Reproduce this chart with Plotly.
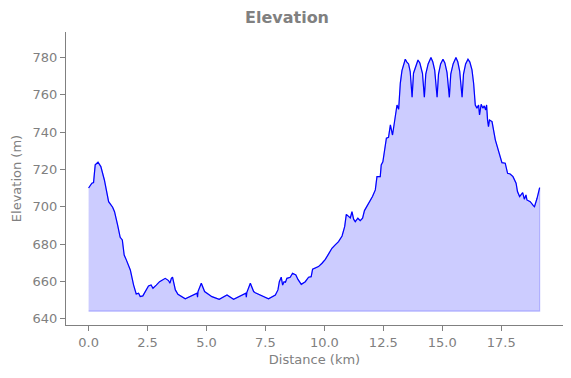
import plotly.graph_objects as go

distance_km = [
    0.0, 0.07, 0.14, 0.21, 0.28, 0.4, 0.52, 0.67, 0.85, 1.02, 1.1, 1.23, 1.34, 1.43, 1.51, 1.6,
    1.7, 1.77, 1.91, 2.02, 2.12, 2.19, 2.3, 2.4, 2.54, 2.65, 2.73, 2.87, 3.01, 3.25, 3.39, 3.45,
    3.51, 3.56, 3.62, 3.68, 3.79, 4.1, 4.6, 4.62, 4.64, 4.78, 4.92, 5.23, 5.54, 5.87, 6.15, 6.67,
    6.69, 6.71, 6.86, 7.0, 7.07, 7.35, 7.63, 7.92, 8.03, 8.09, 8.17, 8.23, 8.29, 8.35, 8.41, 8.55,
    8.65, 8.79, 8.88, 9.02, 9.19, 9.33, 9.44, 9.5, 9.61, 9.75, 9.9, 10.04, 10.18, 10.32, 10.46,
    10.6, 10.75, 10.86, 10.93, 11.03, 11.1, 11.17, 11.24, 11.31, 11.42, 11.52, 11.62, 11.7, 11.87,
    12.04, 12.16, 12.23, 12.37, 12.41, 12.48, 12.55, 12.63, 12.72, 12.8, 12.89, 13.0, 13.08, 13.15,
    13.22, 13.29, 13.36, 13.43, 13.5, 13.57, 13.64, 13.72, 13.78, 13.88, 13.97, 14.05, 14.11, 14.16,
    14.24, 14.3, 14.4, 14.52, 14.6, 14.68, 14.78, 14.84, 14.93, 15.03, 15.11, 15.2, 15.3, 15.36,
    15.46, 15.58, 15.66, 15.74, 15.84, 15.9, 15.99, 16.09, 16.17, 16.26, 16.33, 16.4, 16.47, 16.54,
    16.58, 16.65, 16.72, 16.78, 16.84, 16.88, 16.92, 16.96, 17.0, 17.11, 17.25, 17.39, 17.53, 17.67,
    17.77, 17.88, 18.0, 18.13, 18.19, 18.28, 18.35, 18.41, 18.48, 18.55, 18.59, 18.73, 18.87, 18.91,
    19.02, 19.08, 19.13,
]

elevation_m = [
    710.0, 711.5, 712.6, 712.9, 722.4, 723.8, 721.5, 714.3, 702.7, 699.7, 697.3, 690.2, 683.6, 682.2, 674.1, 671.5,
    668.8, 666.1, 658.0, 653.2, 653.6, 651.8, 652.2, 654.5, 657.5, 658.0, 656.3, 658.0, 659.8, 661.6, 660.4, 659.0,
    661.6, 662.2, 659.0, 655.4, 653.1, 650.6, 653.6, 651.5, 654.5, 659.0, 654.5, 651.8, 650.4, 652.7, 650.4, 653.6,
    651.5, 654.0, 659.0, 654.5, 653.9, 652.2, 650.6, 652.7, 655.4, 659.8, 662.2, 658.0, 659.8, 659.5, 661.6, 662.2,
    664.3, 663.4, 661.0, 658.4, 659.8, 662.2, 662.5, 666.5, 667.3, 667.9, 669.7, 671.8, 674.7, 677.7, 679.5,
    681.3, 684.3, 689.3, 695.9, 694.7, 694.0, 697.3, 693.3, 692.0, 693.8, 692.5, 693.8, 697.9, 701.8,
    705.4, 709.0, 716.1, 716.1, 722.4, 724.0, 730.4, 736.7, 737.2, 743.8, 738.4, 746.5, 754.5, 752.2,
    766.1, 772.9, 776.5, 779.0, 777.5, 776.5, 772.4, 758.6, 771.5, 776.0, 778.6, 777.0, 774.5, 771.5,
    758.6, 771.0, 776.5, 779.9, 777.5, 773.0, 758.6, 771.0, 776.5, 779.0, 777.0, 772.0, 758.6, 771.0,
    776.5, 779.9, 777.5, 772.5, 758.6, 771.0, 776.5, 779.0, 777.5, 773.3, 766.0, 754.5, 752.8, 754.5,
    749.2, 754.9, 752.8, 754.0, 751.8, 754.5, 746.5, 742.9, 746.5, 745.6, 735.8, 729.5, 723.6, 723.3,
    717.9, 717.5, 716.1, 712.6, 708.1, 705.4, 706.5, 707.5, 704.0, 706.3, 703.6, 702.7, 700.4, 700.0,
    704.5, 707.2, 710.2,
]

BASELINE = 644.0

x_ticks = [0.0, 2.5, 5.0, 7.5, 10.0, 12.5, 15.0, 17.5]
x_tick_labels = ["0.0", "2.5", "5.0", "7.5", "10.0", "12.5", "15.0", "17.5"]
y_ticks = [640, 660, 680, 700, 720, 740, 760, 780]
y_tick_labels = [str(v) for v in y_ticks]

GRAY = "#808080"
FONT = "DejaVu Sans"

poly_x = distance_km + [distance_km[-1], distance_km[0]]
poly_y = elevation_m + [BASELINE, BASELINE]

fig = go.Figure()
fig.add_trace(go.Scatter(
    x=poly_x, y=poly_y, mode="lines", fill="toself",
    fillcolor="rgba(0,0,255,0.2)",
    line=dict(color="rgba(0,0,255,0.22)", width=1.2),
    hoverinfo="skip", showlegend=False,
))
fig.add_trace(go.Scatter(
    x=distance_km, y=elevation_m, mode="lines",
    line=dict(color="#0000ff", width=1.2),
    showlegend=False,
))

# page body has an 8px default margin, so the figure is drawn 8px smaller
fig.update_layout(
    width=563, height=370,
    margin=dict(l=58, r=8, t=24, b=53),
    paper_bgcolor="white", plot_bgcolor="white",
    font=dict(family=FONT, color=GRAY, size=13),
    title=dict(text="<b>Elevation</b>", x=0.4956, xanchor="center", y=0.974, yanchor="middle",
               font=dict(family=FONT, size=16, color=GRAY)),
)
fig.update_xaxes(
    range=[-0.958, 20.12], showgrid=False, zeroline=False,
    showline=True, linecolor=GRAY, linewidth=1,
    ticks="outside", ticklen=5, tickcolor=GRAY, tickwidth=1,
    tickvals=x_ticks, ticktext=x_tick_labels,
    tickfont=dict(family=FONT, size=13, color=GRAY),
    title=dict(text="Distance (km)", font=dict(family=FONT, size=13, color=GRAY), standoff=6),
    automargin=False,
)
fig.update_yaxes(
    range=[636.6, 793.6], showgrid=False, zeroline=False,
    showline=True, linecolor=GRAY, linewidth=1,
    ticks="outside", ticklen=5, tickcolor=GRAY, tickwidth=1,
    tickvals=y_ticks, ticktext=y_tick_labels,
    tickfont=dict(family=FONT, size=13, color=GRAY),
    title=dict(text="Elevation (m)", font=dict(family=FONT, size=13, color=GRAY), standoff=8),
    automargin=False,
)

fig.write_html("out.html")
